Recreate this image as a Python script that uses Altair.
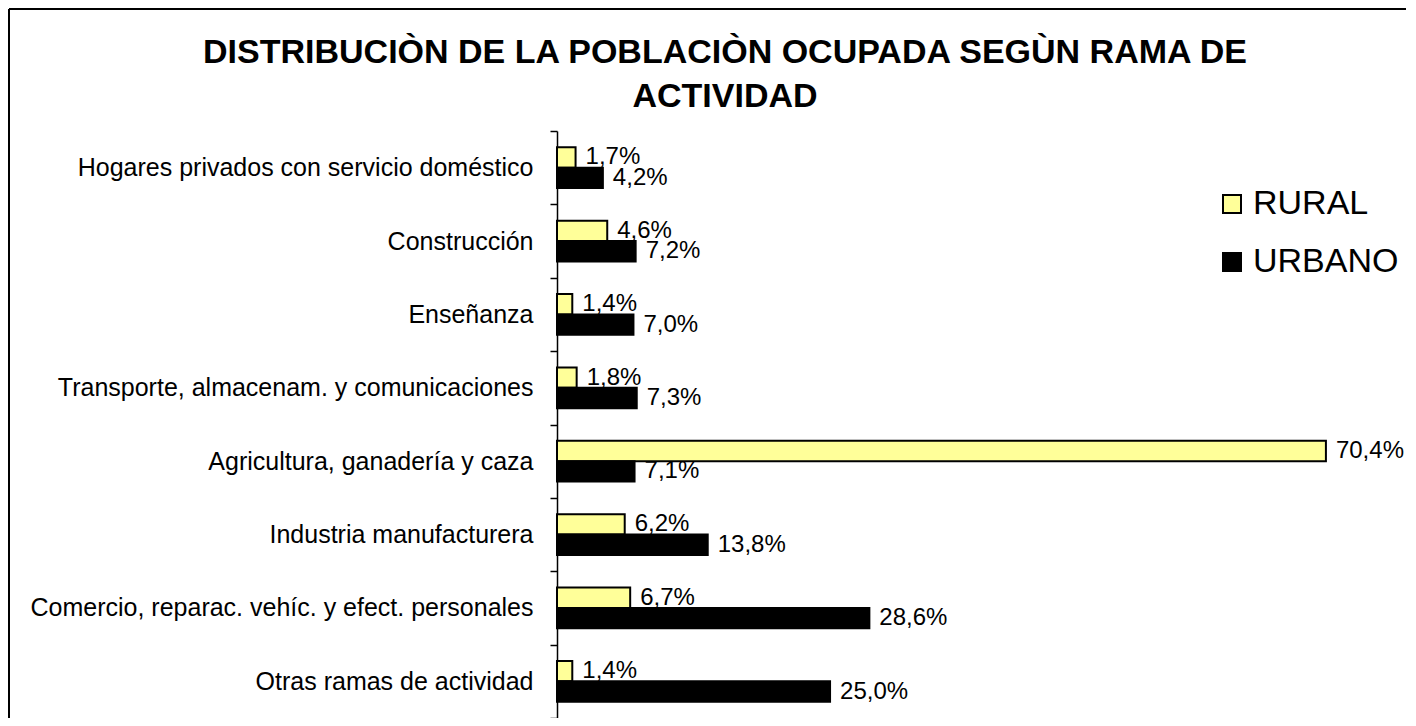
import altair as alt
import pandas as pd

categories = [
    "Hogares privados con servicio doméstico",
    "Construcción",
    "Enseñanza",
    "Transporte, almacenam. y comunicaciones",
    "Agricultura, ganadería y caza",
    "Industria manufacturera",
    "Comercio, reparac. vehíc. y efect. personales",
    "Otras ramas de actividad",
]
rural = [1.7, 4.6, 1.4, 1.8, 70.4, 6.2, 6.7, 1.4]
urbano = [4.2, 7.2, 7.0, 7.3, 7.1, 13.8, 28.6, 25.0]
series = ["RURAL", "URBANO"]
colors = ["#FFFF99", "#000000"]
title_lines = ["DISTRIBUCIÒN DE LA POBLACIÒN OCUPADA SEGÙN RAMA DE", "ACTIVIDAD"]

rows = []
for c, r, u in zip(categories, rural, urbano):
    for s, v in zip(series, [r, u]):
        rows.append({"rama": c, "serie": s, "valor": v,
                     "etiqueta": f"{v:.1f}%".replace(".", ",")})
df = pd.DataFrame(rows)

FONT = "Liberation Sans"

y_enc = alt.Y("rama:N", sort=categories, title=None,
              scale=alt.Scale(paddingInner=0, paddingOuter=0),
              axis=alt.Axis(labelFontSize=25, labelFont=FONT, labelColor="black",
                            labelPadding=17, tickSize=7, tickColor="black",
                            tickWidth=1.5, domainColor="black", domainWidth=1.5,
                            tickBand="extent", labelLimit=700))
yoff = alt.YOffset("serie:N", sort=series,
                   scale=alt.Scale(domain=series, paddingOuter=0.8, paddingInner=0))
x_enc = alt.X("valor:Q", scale=alt.Scale(domain=[0, 77], nice=False), axis=None)

base = alt.Chart(df)

bars = base.mark_bar(stroke="black", strokeWidth=2).encode(
    y=y_enc,
    yOffset=yoff,
    x=x_enc,
    fill=alt.Fill("serie:N", sort=series,
                  scale=alt.Scale(domain=series, range=colors),
                  legend=alt.Legend(title=None, orient="none", legendX=658, legendY=56,
                                    symbolType="square", symbolSize=324,
                                    symbolStrokeColor="black", symbolStrokeWidth=2,
                                    labelFontSize=34, labelFont=FONT, labelColor="black",
                                    labelOffset=4, rowPadding=24)),
)

labels = base.mark_text(align="left", baseline="middle", dx=10, dy=0,
                        fontSize=24, font=FONT, color="black").encode(
    y=y_enc,
    yOffset=yoff,
    x=x_enc,
    text="etiqueta:N",
)

frame_df = pd.DataFrame({"k": [0]})
frame_left = alt.Chart(frame_df).mark_rule(color="black", strokeWidth=2).encode(
    x=alt.value(-548), y=alt.value(-122), y2=alt.value(587)
)
frame_top = alt.Chart(frame_df).mark_rule(color="black", strokeWidth=2).encode(
    x=alt.value(-548), x2=alt.value(849), y=alt.value(-122)
)

title = alt.Chart(frame_df).mark_text(
    font=FONT, fontSize=34, fontWeight="bold", color="black",
    align="center", baseline="alphabetic", lineHeight=44,
).encode(x=alt.value(168), y=alt.value(-68), text=alt.value(title_lines))

chart = alt.layer(frame_left, frame_top, title, bars, labels).properties(
    width=841, height=587,
    padding={"left": 549, "top": 123, "right": 10, "bottom": 0},
    autosize=alt.AutoSizeParams(type="none"),
).configure(background="white").configure_view(stroke=None)

chart.save("out.html", embed_options={"renderer": "svg", "actions": False})
